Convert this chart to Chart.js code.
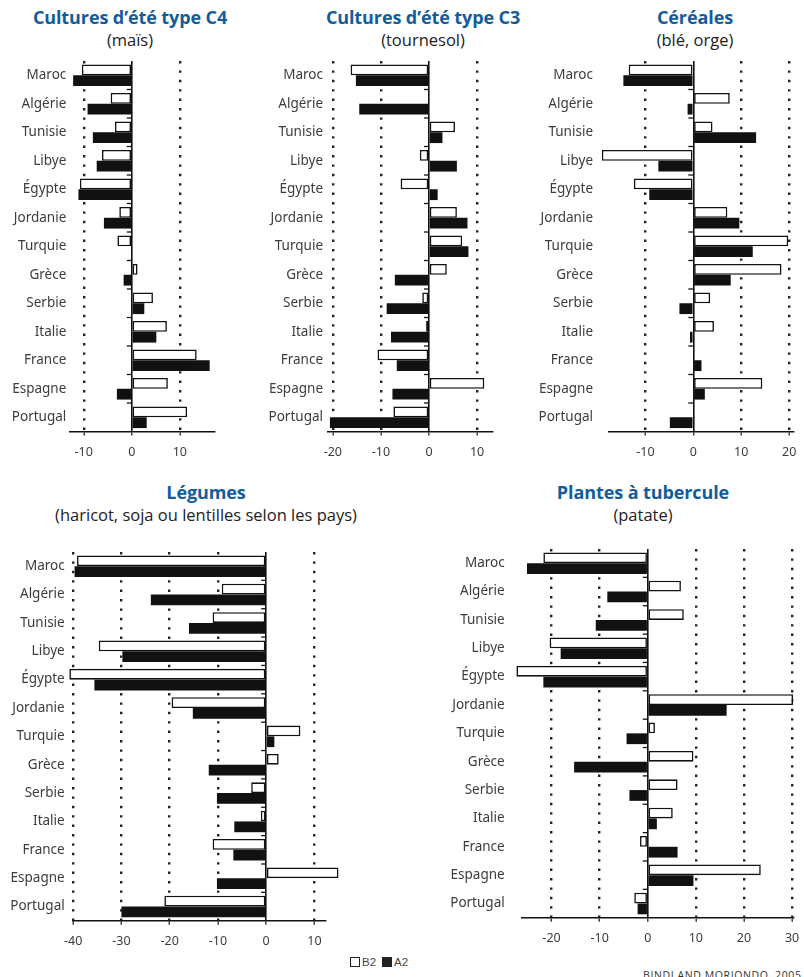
<!DOCTYPE html>
<html lang="fr">
<head>
<meta charset="utf-8">
<title>Variation des rendements agricoles</title>
<script src="https://cdn.jsdelivr.net/npm/chart.js@4.4.1/dist/chart.umd.min.js"></script>
<style>
  html, body { margin: 0; padding: 0; background: #fff; }
  body { width: 804px; height: 977px; position: relative; overflow: hidden; font-family: "Open Sans", "Noto Sans", sans-serif; }
  canvas { position: absolute; }
  .ttl { position: absolute; transform: translateX(-50%); white-space: nowrap; text-align: center; }
  .ttl .main { font-weight: 700; font-size: 18px; line-height: 20px; color: #135c9c; letter-spacing: -0.1px; }
  .ttl .sub { font-size: 16.5px; line-height: 20px; color: #222; margin-top: 3px; }
  #legend { position: absolute; left: 350px; top: 956px; font-family: "Liberation Sans", Arial, sans-serif; font-size: 11.5px; color: #444; white-space: nowrap; }
  #legend .sw { display: inline-block; width: 8px; height: 8px; border: 1.5px solid #222; vertical-align: -1px; margin-right: 2px; }
  #legend .sw.b2 { background: #fff; }
  #legend .sw.a2 { background: #222; margin-left: 6px; }
  #source { position: absolute; left: 643px; top: 968px; font-size: 10.5px; letter-spacing: 0.6px; color: #333; white-space: nowrap; }
</style>
</head>
<body>

<div class="ttl" style="left:130px; top:7px"><div class="main">Cultures d’été type C4</div><div class="sub">(maïs)</div></div>
<div class="ttl" style="left:423px; top:7px"><div class="main">Cultures d’été type C3</div><div class="sub">(tournesol)</div></div>
<div class="ttl" style="left:695px; top:7px"><div class="main">Céréales</div><div class="sub">(blé, orge)</div></div>
<div class="ttl" style="left:206px; top:482px"><div class="main">Légumes</div><div class="sub">(haricot, soja ou lentilles selon les pays)</div></div>
<div class="ttl" style="left:643px; top:482px"><div class="main">Plantes à tubercule</div><div class="sub">(patate)</div></div>

<canvas id="c4"></canvas>
<canvas id="c3"></canvas>
<canvas id="cer"></canvas>
<canvas id="leg"></canvas>
<canvas id="tub"></canvas>

<div id="legend"><span class="sw b2"></span>B2<span class="sw a2"></span>A2</div>
<div id="source">BINDI AND MORIONDO, 2005</div>

<script>
// Pays, du nord-africain au sud-européen
const countries = ['Maroc', 'Algérie', 'Tunisie', 'Libye', 'Égypte', 'Jordanie', 'Turquie',
                   'Grèce', 'Serbie', 'Italie', 'France', 'Espagne', 'Portugal'];
const seriesNames = ['B2', 'A2'];

// Cultures d'été type C4 (maïs)
const c4B2 = [-10.4, -4.4, -3.5, -6.2, -10.8, -2.6, -3.0, 1.2, 4.4, 7.3, 13.5, 7.5, 11.5];
const c4A2 = [-12.2, -9.2, -8.1, -7.3, -11.1, -5.8, 0, -1.7, 2.6, 5.1, 16.2, -3.1, 3.1];
const c4Ticks = [-10, 0, 10];

// Cultures d'été type C3 (tournesol)
const c3B2 = [-16.3, 0, 5.4, -1.9, -5.9, 5.8, 6.9, 3.7, -1.4, -0.6, -10.7, 11.5, -7.4];
const c3A2 = [-15.2, -14.5, 2.8, 5.8, 1.8, 8.0, 8.2, -7.1, -8.8, -7.9, -6.7, -7.6, -20.6];
const c3Ticks = [-20, -10, 0, 10];

// Céréales (blé, orge)
const cerB2 = [-13.5, 7.6, 4.0, -19.1, -12.4, 7.1, 19.8, 18.4, 3.5, 4.3, 0, 14.4, 0];
const cerA2 = [-14.6, -1.2, 13.1, -7.3, -9.2, 9.6, 12.4, 7.8, -2.9, -0.7, 1.7, 2.4, -4.9];
const cerTicks = [-10, 0, 10, 20];

// Légumes (haricot, soja ou lentilles)
const legB2 = [-39.2, -9.2, -11.1, -34.7, -40.8, -19.6, 7.1, 2.6, -3.1, -1.1, -11.1, 15.0, -21.1];
const legA2 = [-39.7, -23.9, -16.0, -29.8, -35.6, -15.2, 1.7, -11.9, -10.2, -6.6, -6.8, -10.2, -30.0];
const legTicks = [-40, -30, -20, -10, 0, 10];

// Plantes à tubercule (patate)
const tubB2 = [-21.7, 6.9, 7.5, -20.4, -27.3, 30.2, 1.5, 9.5, 6.2, 5.2, -1.6, 23.5, -2.8];
const tubA2 = [-25.1, -8.4, -10.8, -18.1, -21.7, 16.4, -4.4, -15.3, -3.8, 1.9, 6.2, 9.5, -2.1];
const tubTicks = [-20, -10, 0, 10, 20, 30];

// Small marks on the zero axis between countries
const zeroAxisMarks = {
  id: 'zeroAxisMarks',
  afterDatasetsDraw(chart) {
    const { ctx, scales: { x, y } } = chart;
    const x0 = x.getPixelForValue(0);
    ctx.save();
    ctx.strokeStyle = '#111';
    ctx.lineWidth = 1.3;
    for (let i = 0; i < countries.length - 1; i++) {
      const yy = (y.getPixelForValue(i) + y.getPixelForValue(i + 1)) / 2;
      ctx.beginPath();
      ctx.moveTo(x0 - 5, yy);
      ctx.lineTo(x0, yy);
      ctx.stroke();
    }
    ctx.restore();
  }
};

// area: left/right/top/bottom of the plotting area on the page
function panel(id, b2, a2, ticks, min, max, area, labelPad) {
  const yW = 80, xH = 32, padTop = 8, padRight = 14;
  const left = Math.round(area.left - yW);
  const top = Math.round(area.top - padTop);
  const axisW = area.left - left;
  const topPad = area.top - top;
  const width = Math.round(area.right + padRight - left);
  const height = Math.round(area.bottom + xH - top);
  const bottomH = height - (area.bottom - top);
  const cv = document.getElementById(id);
  cv.width = width; cv.height = height;
  cv.style.left = left + 'px'; cv.style.top = top + 'px';
  cv.style.width = width + 'px'; cv.style.height = height + 'px';

  return new Chart(cv, {
    type: 'bar',
    data: {
      labels: countries,
      datasets: [
        { label: seriesNames[0], data: b2, backgroundColor: '#ffffff', borderColor: '#111', borderWidth: 1.6, borderSkipped: false, clip: false },
        { label: seriesNames[1], data: a2, backgroundColor: '#111111', borderWidth: 0, clip: false }
      ]
    },
    options: {
      indexAxis: 'y',
      responsive: false,
      animation: false,
      devicePixelRatio: 1,
      layout: { padding: { top: topPad, right: padRight, left: 0, bottom: 0 } },
      datasets: { bar: { categoryPercentage: 0.76, barPercentage: 1.0 } },
      plugins: { legend: { display: false }, tooltip: { enabled: false } },
      scales: {
        y: {
          type: 'category',
          position: 'left',
          offset: true,
          grid: { display: false, drawTicks: false },
          border: { display: false },
          ticks: { autoSkip: false, padding: labelPad, color: '#3c3c3c', font: { family: 'Noto Sans', size: 13.5 } },
          afterFit(s) { s.width = axisW; s.paddingTop = 0; s.paddingBottom = 0; }
        },
        x: {
          type: 'linear',
          position: 'bottom',
          min: min, max: max,
          afterBuildTicks(s) { s.ticks = ticks.map(v => ({ value: v })); },
          grid: {
            drawOnChartArea: true,
            drawTicks: true,
            tickLength: 4,
            tickColor: '#111',
            tickWidth: 1.2,
            color: c => (c.tick && c.tick.value === 0) ? '#111' : '#222',
            lineWidth: c => (c.tick && c.tick.value === 0) ? 1.6 : 2.4
          },
          border: {
            display: true, color: '#111', width: 1.6,
            dash: c => (c.tick && c.tick.value !== 0) ? [2.4, 7] : []
          },
          ticks: { padding: 9, color: '#3c3c3c', font: { family: 'Noto Sans', size: 12.5 }, maxRotation: 0 },
          afterFit(s) { s.height = bottomH; s.paddingLeft = 0; s.paddingRight = 0; }
        }
      }
    },
    plugins: [zeroAxisMarks]
  });
}

panel('c4',  c4B2,  c4A2,  c4Ticks,  -13.0, 17.1, { left: 69.3,  right: 214, top: 61,  bottom: 431.5 }, 3);
panel('c3',  c3B2,  c3A2,  c3Ticks,  -21.0, 13.1, { left: 328,   right: 492, top: 61,  bottom: 431.5 }, 5);
panel('cer', cerB2, cerA2, cerTicks, -17.6, 20.8, { left: 609,   right: 793, top: 61,  bottom: 431.5 }, 16);
panel('leg', legB2, legA2, legTicks, -40.1, 12.2, { left: 72.7,  right: 325, top: 552, bottom: 920.7 }, 8);
panel('tub', tubB2, tubA2, tubTicks, -26.2, 30.2, { left: 521.7, right: 793, top: 549, bottom: 917.7 }, 17);
</script>
</body>
</html>
